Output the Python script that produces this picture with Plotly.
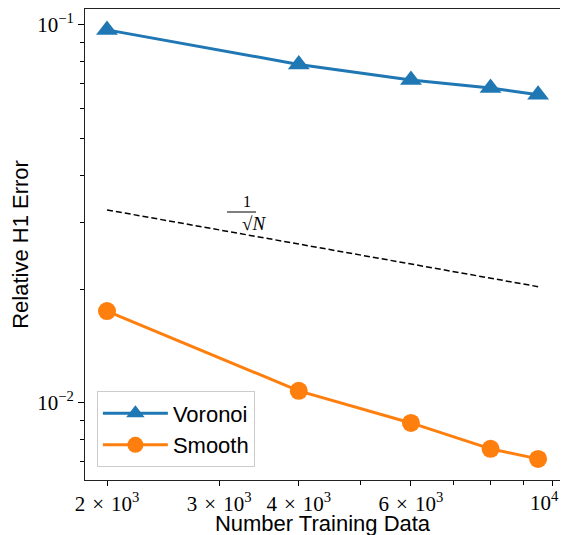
import plotly.graph_objects as go

n_train = [2000, 4000, 6000, 8000, 9500]
voronoi_err = [0.0970, 0.0786, 0.0715, 0.0681, 0.0653]
smooth_err = [0.0175, 0.01076, 0.00885, 0.00756, 0.00711]
ref_line = [0.0324, 0.0263, 0.0233, 0.0214, 0.0203]

SP = "\u2004"
x_tickvals = [2000, 3000, 4000, 6000, 10000]
x_ticktext = [f"2{SP}×{SP}10<sup>3</sup>", f"3{SP}×{SP}10<sup>3</sup>", f"4{SP}×{SP}10<sup>3</sup>",
              f"6{SP}×{SP}10<sup>3</sup>", ""]
last_tick_label = "10<sup>4</sup>"
x_minor = [5000, 7000, 8000, 9000]
y_tickvals = [0.01, 0.1]
y_ticktext = ["10<sup>−2</sup>", "10<sup>−1</sup>"]
y_minor = [0.007, 0.008, 0.009, 0.02, 0.03, 0.04, 0.05, 0.06, 0.07, 0.08, 0.09]

BLUE = "#1f77b4"
ORANGE = "#ff7f0e"
SERIF = "Liberation Serif, DejaVu Serif, serif"
SANS = "Liberation Sans, Arial, sans-serif"

fig = go.Figure()
fig.add_trace(go.Scatter(x=n_train, y=voronoi_err, mode="lines+markers", name="Voronoi",
                         line=dict(color=BLUE, width=3),
                         marker=dict(symbol="triangle-up", size=19, color=BLUE)))
fig.add_trace(go.Scatter(x=n_train, y=smooth_err, mode="lines+markers", name="Smooth",
                         line=dict(color=ORANGE, width=3),
                         marker=dict(symbol="circle", size=18, color=ORANGE)))
fig.add_trace(go.Scatter(x=n_train, y=ref_line, mode="lines", showlegend=False,
                         line=dict(color="black", width=1.5, dash="6px,3px")))

# 1/sqrt(N) label
fig.add_annotation(xref="paper", yref="paper", x=0.329, y=0.592, text="1",
                   showarrow=False, font=dict(family=SERIF, size=16, color="black"))
fig.add_annotation(xref="paper", yref="paper", x=0.326, y=0.545, text="√<i>N</i>",
                   showarrow=False, font=dict(family=SERIF, size=19, color="black"))
fig.add_shape(type="line", xref="paper", yref="paper", x0=0.299, x1=0.360, y0=0.569, y1=0.569,
              line=dict(color="black", width=1))

# last x tick label, kept inside the visible area
fig.add_annotation(xref="paper", yref="paper", x=0.968, y=-0.013, xanchor="center", yanchor="top",
                   text=last_tick_label, showarrow=False,
                   font=dict(family=SERIF, size=21, color="black"))

fig.update_layout(
    width=560, height=528,
    margin=dict(l=77, r=8, t=1, b=56),
    paper_bgcolor="white", plot_bgcolor="white",
    showlegend=True,
    legend=dict(x=0.025, y=0.188, xanchor="left", yanchor="top",
                bgcolor="rgba(255,255,255,0.8)", bordercolor="#cccccc", borderwidth=1,
                font=dict(family=SANS, size=22, color="black"),
                itemwidth=65, tracegroupgap=2),
    xaxis=dict(type="log", range=[3.2665, 4.0121],
               tickmode="array", tickvals=x_tickvals, ticktext=x_ticktext,
               ticks="outside", ticklen=5, tickwidth=1, tickcolor="black",
               tickfont=dict(family=SERIF, size=21, color="black"),
               minor=dict(tickmode="array", tickvals=x_minor, ticks="outside",
                          ticklen=4, tickwidth=1, tickcolor="black", showgrid=False),
               showgrid=False, zeroline=False,
               showline=True, mirror=True, linecolor="#222", linewidth=1,
               title=dict(text="Number Training Data",
                          font=dict(family=SANS, size=22, color="black"), standoff=0)),
    yaxis=dict(type="log", range=[-2.204, -0.958],
               tickmode="array", tickvals=y_tickvals, ticktext=y_ticktext,
               ticks="outside", ticklen=6, tickwidth=1, tickcolor="black",
               tickfont=dict(family=SERIF, size=21, color="black"),
               minor=dict(tickmode="array", tickvals=y_minor, ticks="outside",
                          ticklen=4, tickwidth=1, tickcolor="black", showgrid=False),
               showgrid=False, zeroline=False,
               showline=True, mirror=True, linecolor="#222", linewidth=1,
               title=dict(text="Relative H1 Error",
                          font=dict(family=SANS, size=22, color="black"), standoff=8)),
)

fig.write_html("out.html", config={"displayModeBar": False})
